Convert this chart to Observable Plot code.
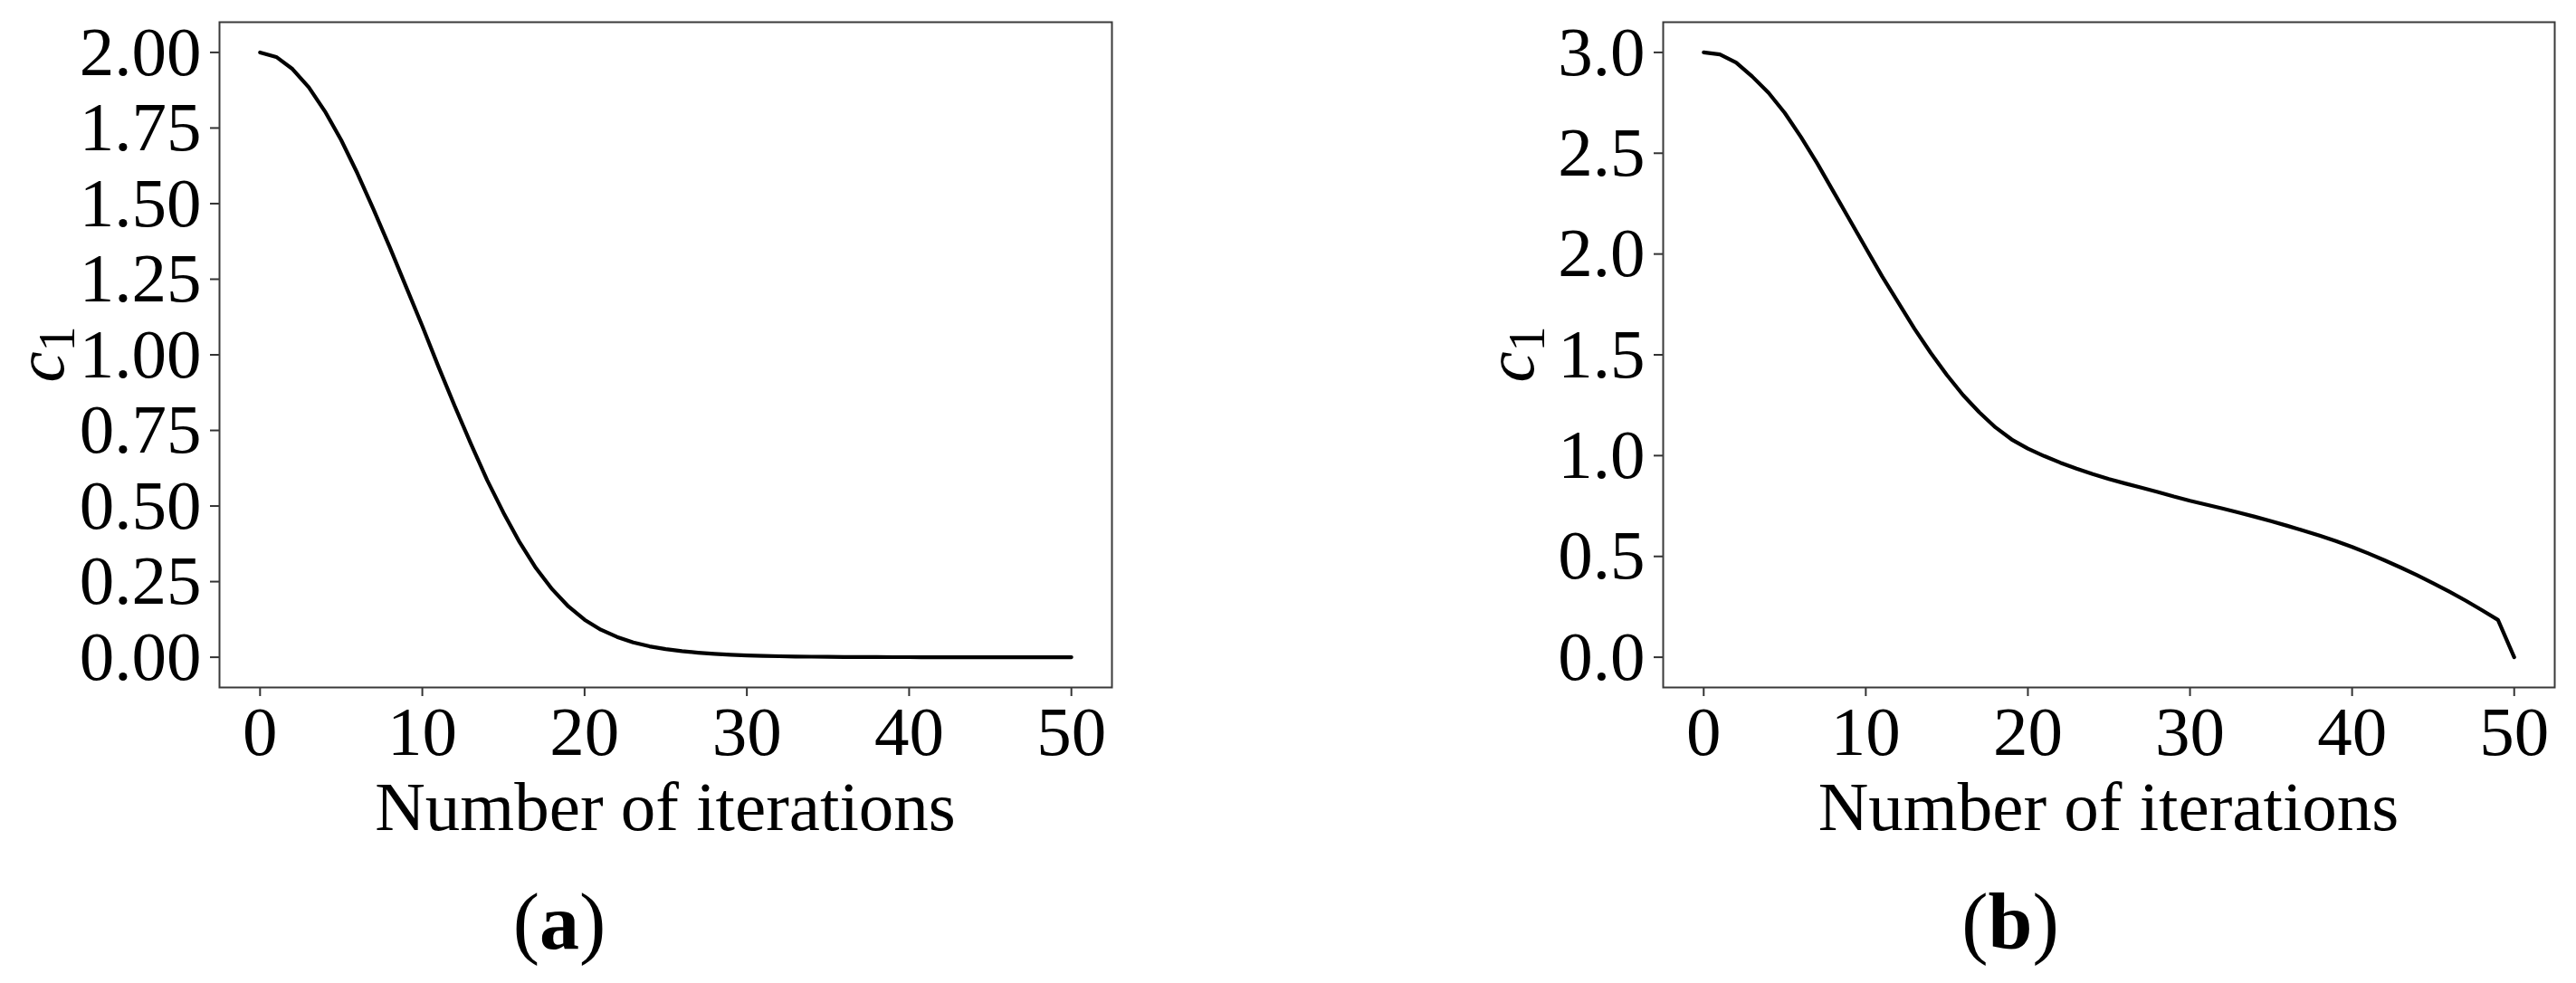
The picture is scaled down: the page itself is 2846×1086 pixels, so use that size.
<!DOCTYPE html>
<html>
<head>
<meta charset="utf-8">
<script src="https://cdn.jsdelivr.net/npm/d3@7"></script>
<script src="https://cdn.jsdelivr.net/npm/@observablehq/plot@0.6"></script>
<style>
  html, body { margin: 0; padding: 0; background: #fff; }
  #page { position: relative; width: 2846px; height: 1086px; overflow: hidden; background: #fff; }
  .panel { position: absolute; top: 0; }
  .cap { position: absolute; font-family: "Liberation Serif", "Times New Roman", serif; font-size: 88px; line-height: 1; color: #000; white-space: nowrap; transform: translateX(-50%); }
  .cap b { font-weight: bold; }
</style>
</head>
<body>
<div id="page"></div>
<script>
// ---------------- data ----------------
const iterations = [0,1,2,3,4,5,6,7,8,9,10,11,12,13,14,15,16,17,18,19,20,21,22,23,24,25,
  26,27,28,29,30,31,32,33,34,35,36,37,38,39,40,41,42,43,44,45,46,47,48,49,50];

// panel (a): c1 vs iterations
const c1A = [2.000,1.985,1.945,1.885,1.805,1.710,1.600,1.480,1.355,1.225,1.095,0.960,0.830,0.705,0.585,
  0.478,0.380,0.295,0.225,0.168,0.124,0.091,0.067,0.049,0.036,0.027,0.020,0.015,0.011,0.008,0.006,
  0.0045,0.0033,0.0024,0.0017,0.0012,0.0009,0.0006,0.0004,0.0003,0.0002,0.0001,0.0001,0.0001,0,0,0,0,0,0,0];

// panel (b): c1 vs iterations
const c1B = [3.00,2.99,2.95,2.88,2.80,2.70,2.58,2.45,2.31,2.17,2.03,1.89,1.76,1.63,1.51,1.40,1.30,1.215,
  1.14,1.08,1.035,0.998,0.965,0.935,0.908,0.884,0.862,0.841,0.820,0.797,0.776,0.757,0.738,0.718,0.697,
  0.675,0.652,0.628,0.603,0.576,0.547,0.515,0.481,0.445,0.407,0.367,0.325,0.281,0.234,0.185,0.00];

const xTicks = [0,10,20,30,40,50];
const yTicksA = [0,0.25,0.5,0.75,1,1.25,1.5,1.75,2];
const yTicksB = [0,0.5,1,1.5,2,2.5,3];
const xLabel = "Number of iterations";
const captions = ["a", "b"];

// ---------------- drawing ----------------
const FONT = "'Liberation Serif', 'Times New Roman', serif";
const FS = 77;
const W = 1423, H = 940;

function panel(values, yDomain, yTicks, fmt, marginLeft, marginRight, labelX, ylabX) {
  const data = iterations.map((it, i) => ({it, v: values[i]}));
  const chart = Plot.plot({
    width: W, height: H,
    marginTop: 24, marginBottom: H - 759,
    marginLeft, marginRight,
    style: {fontFamily: FONT, fontSize: FS + "px", color: "#000", background: "#fff", overflow: "visible"},
    x: {domain: [-2.5, 52.5], axis: null},
    y: {domain: yDomain, axis: null},
    marks: [
      Plot.axisX({ticks: xTicks, tickSize: 10, tickPadding: 10, stroke: "#333", strokeWidth: 2,
        fontSize: FS, fill: "#000", label: null, tickFormat: d3.format("d")}),
      Plot.axisY({ticks: yTicks, tickSize: 10, tickPadding: 10, stroke: "#333", strokeWidth: 2,
        fontSize: FS, fill: "#000", label: null, tickFormat: d3.format(fmt)}),
      Plot.line(data, {x: "it", y: "v", stroke: "#000", strokeWidth: 4.2, curve: "linear"}),
      Plot.frame({stroke: "#3a3a3a", strokeWidth: 2})
    ]
  });
  const svg = d3.select(chart);
  // x label
  svg.append("text")
    .attr("x", labelX).attr("y", 917)
    .attr("text-anchor", "middle")
    .style("font-family", FONT).style("font-size", FS + "px").attr("fill", "#000")
    .text(xLabel);
  // y label: c with subscript 1
  const t = svg.append("text")
    .attr("transform", `translate(${ylabX},391.5) rotate(-90)`)
    .attr("text-anchor", "middle")
    .style("font-family", FONT).style("font-size", FS + "px").attr("fill", "#000");
  t.append("tspan").style("font-style", "italic").text("c");
  t.append("tspan").style("font-size", "56px").attr("dy", 12).text("1");
  return chart;
}

const page = document.getElementById("page");

const a = panel(c1A, [-0.1, 2.1], yTicksA, ".2f", 242, W - 1228, (242 + 1228) / 2, 70);
const wa = document.createElement("div"); wa.className = "panel"; wa.style.left = "0px"; wa.appendChild(a);
page.appendChild(wa);

const b = panel(c1B, [-0.15, 3.15], yTicksB, ".1f", 1837 - 1423, 2846 - 2822, (1837 + 2822) / 2 - 1423, 1694 - 1423);
const wb = document.createElement("div"); wb.className = "panel"; wb.style.left = "1423px"; wb.appendChild(b);
page.appendChild(wb);

const capX = [618, 2221];
captions.forEach((c, i) => {
  const d = document.createElement("div");
  d.className = "cap";
  d.style.left = capX[i] + "px";
  d.style.top = "975px";
  d.innerHTML = "(<b>" + c + "</b>)";
  page.appendChild(d);
});
</script>
</body>
</html>
